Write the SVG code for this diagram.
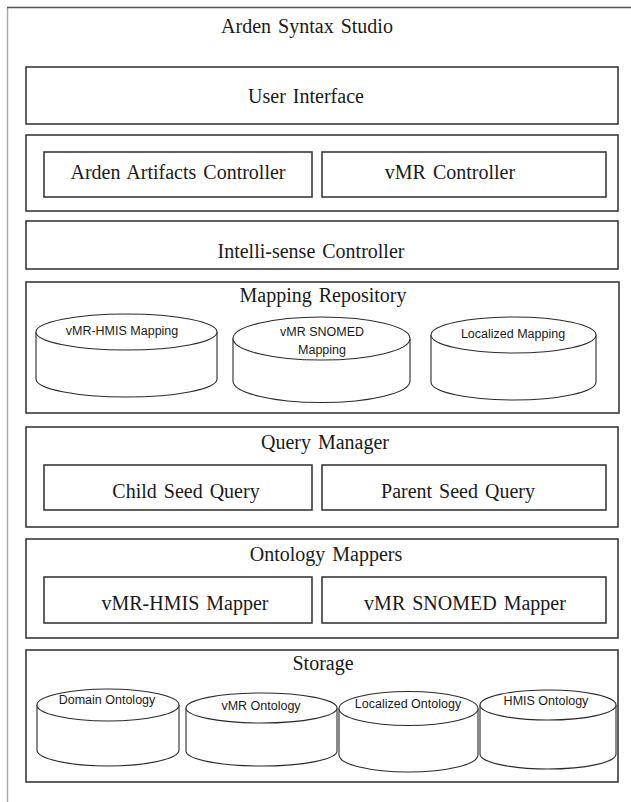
<svg xmlns="http://www.w3.org/2000/svg" width="631" height="802" viewBox="0 0 631 802">
<style>
.box{fill:#fff;stroke:#3a3a3a;stroke-width:1.6}
.cyl{fill:#fff;stroke:#2a2a2a;stroke-width:1.1}
.t{font-family:"Liberation Serif","Times New Roman",serif;font-size:20px;fill:#1a1a1a;text-anchor:middle;word-spacing:2px}
.s{font-family:"Liberation Sans",Arial,sans-serif;font-size:12.5px;fill:#1a1a1a;text-anchor:middle}
</style>
<rect width="631" height="802" fill="#fff"/>
<g id="frame">
<path d="M7.5,802 V7.5" fill="none" stroke="#aaa" stroke-width="1.5"/>
<path d="M7,7.5 H631" fill="none" stroke="#555" stroke-width="1.6"/>
<text class="t" x="307" y="33">Arden Syntax Studio</text>
</g>
<g id="user-interface">
<rect class="box" x="26" y="67" width="592" height="57"/>
<text class="t" x="306" y="103">User Interface</text>
</g>
<g id="controllers">
<rect class="box" x="26" y="135" width="592" height="76"/>
<g id="arden-artifacts-controller">
<rect class="box" x="44" y="152" width="268" height="45"/>
<text class="t" x="178" y="179">Arden Artifacts Controller</text>
</g>
<g id="vmr-controller">
<rect class="box" x="322" y="152" width="284" height="45"/>
<text class="t" x="450" y="179">vMR Controller</text>
</g>
</g>
<g id="intellisense-controller">
<rect class="box" x="26" y="221" width="592" height="48"/>
<text class="t" x="311" y="258">Intelli-sense Controller</text>
</g>
<g id="mapping-repository">
<rect class="box" x="26" y="282" width="593" height="131"/>
<text class="t" x="323" y="302">Mapping Repository</text>
<g id="vmr-hmis-mapping">
<path class="cyl" d="M36,332 V379 A90.5,18 0 0 0 217,379 V332"/>
<ellipse class="cyl" cx="126.5" cy="332" rx="90.5" ry="18"/>
<text class="s" x="122" y="335">vMR-HMIS Mapping</text>
</g>
<g id="vmr-snomed-mapping">
<path class="cyl" d="M233,338.5 V381 A88.5,21.5 0 0 0 410,381 V338.5"/>
<ellipse class="cyl" cx="321.5" cy="338.5" rx="88.5" ry="21.5"/>
<text class="s" x="322" y="336">vMR SNOMED</text>
<text class="s" x="322" y="354">Mapping</text>
</g>
<g id="localized-mapping">
<path class="cyl" d="M431,335 V382 A82.5,18 0 0 0 596,382 V335"/>
<ellipse class="cyl" cx="513.5" cy="335" rx="82.5" ry="18"/>
<text class="s" x="513" y="338">Localized Mapping</text>
</g>
</g>
<g id="query-manager">
<rect class="box" x="26" y="427" width="592" height="100"/>
<text class="t" x="325" y="449">Query Manager</text>
<g id="child-seed-query">
<rect class="box" x="44" y="465" width="268" height="45"/>
<text class="t" x="186" y="498">Child Seed Query</text>
</g>
<g id="parent-seed-query">
<rect class="box" x="322" y="465" width="284" height="45"/>
<text class="t" x="458" y="498">Parent Seed Query</text>
</g>
</g>
<g id="ontology-mappers">
<rect class="box" x="26" y="539" width="592" height="99"/>
<text class="t" x="326" y="561">Ontology Mappers</text>
<g id="vmr-hmis-mapper">
<rect class="box" x="44" y="577" width="268" height="46"/>
<text class="t" x="185" y="610">vMR-HMIS Mapper</text>
</g>
<g id="vmr-snomed-mapper">
<rect class="box" x="322" y="577" width="284" height="46"/>
<text class="t" x="465" y="610">vMR SNOMED Mapper</text>
</g>
</g>
<g id="storage">
<rect class="box" x="26" y="650" width="592" height="132"/>
<text class="t" x="323" y="670">Storage</text>
<g id="domain-ontology">
<path class="cyl" d="M37,705 V750 A71,16 0 0 0 179,750 V705"/>
<ellipse class="cyl" cx="108" cy="705" rx="71" ry="16"/>
<text class="s" x="107" y="704">Domain Ontology</text>
</g>
<g id="vmr-ontology">
<path class="cyl" d="M186,708 V751 A75.5,15 0 0 0 337,751 V708"/>
<ellipse class="cyl" cx="261.5" cy="708" rx="75.5" ry="15"/>
<text class="s" x="261" y="710">vMR Ontology</text>
</g>
<g id="localized-ontology">
<path class="cyl" d="M339,708.5 V755 A69.5,17 0 0 0 478,755 V708.5"/>
<ellipse class="cyl" cx="408.5" cy="708.5" rx="69.5" ry="17"/>
<text class="s" x="408" y="708">Localized Ontology</text>
</g>
<g id="hmis-ontology">
<path class="cyl" d="M480,705 V754 A68,15 0 0 0 616,754 V705"/>
<ellipse class="cyl" cx="548" cy="705" rx="68" ry="15"/>
<text class="s" x="546" y="705">HMIS Ontology</text>
</g>
</g>
<g id="connectors"/>
</svg>
